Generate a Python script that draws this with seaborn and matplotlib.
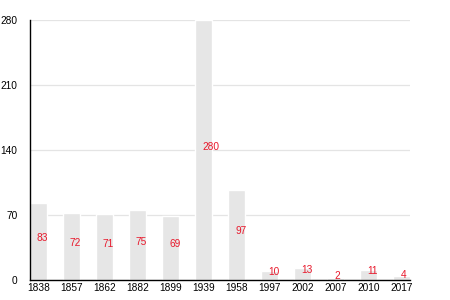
import matplotlib
matplotlib.use("Agg")
import matplotlib.pyplot as plt
import seaborn as sns
import pandas as pd

years = ["1838", "1857", "1862", "1882", "1899", "1939", "1958",
         "1997", "2002", "2007", "2010", "2017"]
values = [83, 72, 71, 75, 69, 280, 97, 10, 13, 2, 11, 4]
yticks = [0, 70, 140, 210, 280]

sns.set_theme(style="white")
plt.rcParams['font.family'] = ['Liberation Sans', 'DejaVu Sans']

df = pd.DataFrame({"year": years, "value": values})

fig = plt.figure(figsize=(4.5, 3), dpi=100)
ax = fig.add_axes([30/450, 20/300, 380/450, 260/300])

sns.barplot(data=df, x="year", y="value", color="#e6e6e6", saturation=1,
            width=0.5, ax=ax, zorder=2)

ax.set_xlim(-0.25, 11.25)
ax.set_ylim(0, 280)
ax.set_yticks(yticks)
ax.set_yticklabels([str(t) for t in yticks])
ax.yaxis.grid(True, color="#e4e4e4", linewidth=0.9, zorder=0)
ax.set_axisbelow(True)
ax.set_xlabel("")
ax.set_ylabel("")

for s in ["top", "right"]:
    ax.spines[s].set_visible(False)
for s in ["left", "bottom"]:
    ax.spines[s].set_color("black")
    ax.spines[s].set_linewidth(1.0)

ax.tick_params(axis="y", length=0, pad=9, labelsize=7.3, colors="black")
ax.tick_params(axis="x", length=0, pad=2.5, labelsize=7.3, colors="black")

for i, v in enumerate(values):
    ax.annotate(str(v), xy=(i, v / 2), xytext=(-1, 2.5),
                textcoords="offset points", ha="left", va="center",
                color="#e8192c", fontsize=7.3, zorder=3)

fig.savefig("out.png", dpi=100)
